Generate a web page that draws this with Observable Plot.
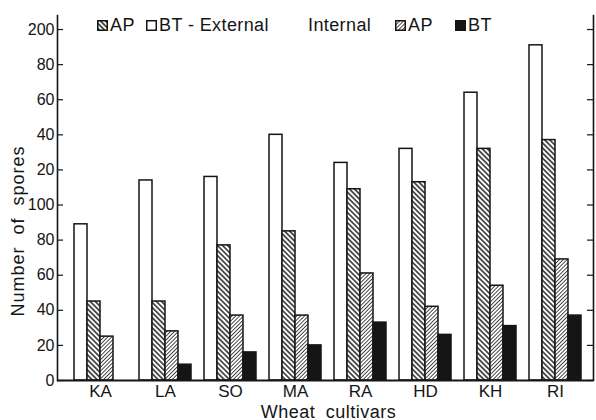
<!DOCTYPE html>
<html><head><meta charset="utf-8">
<script src="https://cdn.jsdelivr.net/npm/d3@7"></script>
<script src="https://cdn.jsdelivr.net/npm/@observablehq/plot@0.6"></script>
<style>
body{margin:0;background:#fff;}
#wrap{position:relative;width:596px;height:420px;font-family:"Liberation Sans",Arial,sans-serif;color:#151515;}
.item{position:absolute;top:14px;white-space:nowrap;font-size:18px;line-height:22px;letter-spacing:0.4px;}
.sw{width:11px;height:11px;margin-right:2px;display:inline-block;vertical-align:baseline;}
</style></head><body>
<svg width="0" height="0" style="position:absolute">
<defs>
<pattern id="hatchExt" patternUnits="userSpaceOnUse" width="3.6" height="3.6" patternTransform="rotate(-45)">
<rect width="3.6" height="3.6" fill="#fff"/><line x1="1.8" y1="-1" x2="1.8" y2="4.6" stroke="#151515" stroke-width="1.4"/></pattern>
<pattern id="hatchInt" patternUnits="userSpaceOnUse" width="2.7" height="2.7" patternTransform="rotate(45)">
<rect width="2.7" height="2.7" fill="#fff"/><line x1="1.35" y1="-1" x2="1.35" y2="3.7" stroke="#333" stroke-width="0.9"/></pattern>
</defs></svg>
<div id="wrap">
  <div class="item" style="left:97px"><svg class="sw" viewBox="0 0 11 11"><rect x="0.75" y="0.75" width="9.5" height="9.5" fill="url(#hatchExt)" stroke="#151515" stroke-width="1.5"/></svg>AP</div>
  <div class="item" style="left:146px"><svg class="sw" viewBox="0 0 11 11"><rect x="0.75" y="0.75" width="9.5" height="9.5" fill="#fff" stroke="#151515" stroke-width="1.5"/></svg>BT - External</div>
  <div class="item" style="left:308px">Internal</div>
  <div class="item" style="left:395px"><svg class="sw" viewBox="0 0 11 11"><rect x="0.75" y="0.75" width="9.5" height="9.5" fill="url(#hatchInt)" stroke="#151515" stroke-width="1.5"/></svg>AP</div>
  <div class="item" style="left:455px"><svg class="sw" viewBox="0 0 11 11"><rect x="0.75" y="0.75" width="9.5" height="9.5" fill="#151515" stroke="#151515" stroke-width="1.5"/></svg>BT</div>
</div>
<script>
const cultivars = ["KA","LA","SO","MA","RA","HD","KH","RI"];
const externalBT = [89,114,116,140,124,132,164,191];
const externalAP = [45,45,77,85,109,113,132,137];
const internalAP = [25,28,37,37,61,42,54,69];
const internalBT = [null,9,16,20,33,26,31,37];
const yTickValues = [0,20,40,60,80,100,120,140,160,180,200];
const yTickLabels = ["0","20","40","60","80","100","20","40","60","80","200"];
const xTitle = "Wheat cultivars";
const yTitle = "Number of spores";

const series = [
  {key:"extBT", values: externalBT, fill:"#fff"},
  {key:"extAP", values: externalAP, fill:"url(#hatchExt)"},
  {key:"intAP", values: internalAP, fill:"url(#hatchInt)"},
  {key:"intBT", values: internalBT, fill:"#151515"}
];

const W = 596, H = 420, mL = 57, mR = 3, mT = 15, mB = 40;
const pIn = 0.206, pOut = 0.195;
const plotW = W - mL - mR;
const step = plotW / (cultivars.length - pIn + 2 * pOut);
const sub = step * (1 - pIn) / series.length;

const barMarks = series.map((s, i) => {
  const rows = cultivars.map((c, j) => ({cultivar: c, value: s.values[j]})).filter(d => d.value != null);
  return Plot.barY(rows, {
    x: "cultivar", y: "value", fill: s.fill, stroke: "#151515", strokeWidth: 1.5,
    insetLeft: i * sub, insetRight: (series.length - 1 - i) * sub
  });
});

const chart = Plot.plot({
  width: W, height: H,
  marginLeft: mL, marginRight: mR, marginTop: mT, marginBottom: mB,
  style: {fontFamily: "Liberation Sans, Arial, sans-serif", color: "#151515", background: "transparent"},
  x: {domain: cultivars, paddingInner: pIn, paddingOuter: pOut, align: 0.58},
  y: {domain: [0, 208]},
  marks: [
    ...barMarks,
    Plot.ruleY([0], {stroke: "#151515", strokeWidth: 1.8}),
    Plot.frame({anchor: "left", stroke: "#151515", strokeWidth: 1.6}),
    Plot.frame({anchor: "right", stroke: "#151515", strokeWidth: 1.6}),
    Plot.tickY(yTickValues, {y: d => d, insetRight: plotW - 6, stroke: "#151515", strokeWidth: 1.2}),
    Plot.tickY(yTickValues, {y: d => d, insetLeft: plotW - 6, stroke: "#151515", strokeWidth: 1.2}),
    Plot.axisY(yTickValues, {tickSize: 0, tickPadding: 3, fontSize: 16, label: null,
      tickFormat: d => yTickLabels[yTickValues.indexOf(d)]}),
    Plot.axisX({tickSize: 0, tickPadding: 4, fontSize: 17, label: null}),
    Plot.text([xTitle], {text: d => d, frameAnchor: "bottom", dx: 3, dy: 37, fontSize: 18}),
    Plot.text([yTitle], {text: d => d, frameAnchor: "left", textAnchor: "middle", rotate: -90,
      dx: -39, dy: 33, fontSize: 18})
  ]
});
chart.querySelectorAll("text").forEach(t => {
  if (t.textContent === xTitle) { t.style.letterSpacing = "0.5px"; t.style.wordSpacing = "5px"; }
  if (t.textContent === yTitle) { t.style.letterSpacing = "1px"; t.style.wordSpacing = "6px"; }
});
chart.style.position = "absolute";
chart.style.left = "0";
chart.style.top = "0";
document.getElementById("wrap").prepend(chart);
</script>
</body></html>
